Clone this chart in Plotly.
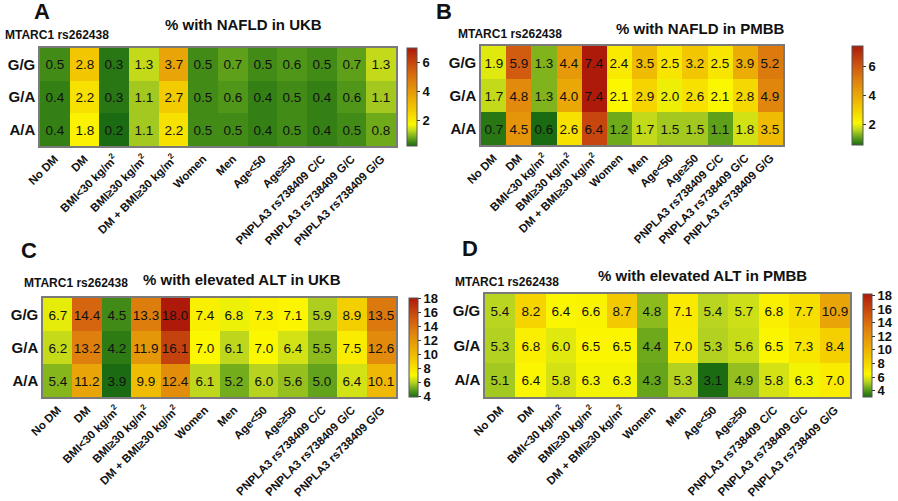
import plotly.graph_objects as go

categories = ["No DM", "DM", "BMI<30 kg/m<sup>2</sup>", "BMI≥30 kg/m<sup>2</sup>",
              "DM + BMI≥30 kg/m<sup>2</sup>", "Women", "Men", "Age<50", "Age≥50",
              "PNPLA3 rs738409 C/C", "PNPLA3 rs738409 G/C", "PNPLA3 rs738409 G/G"]
genotypes = ["G/G", "G/A", "A/A"]

nafld_ukb = [
    [0.5, 2.8, 0.3, 1.3, 3.7, 0.5, 0.7, 0.5, 0.6, 0.5, 0.7, 1.3],
    [0.4, 2.2, 0.3, 1.1, 2.7, 0.5, 0.6, 0.4, 0.5, 0.4, 0.6, 1.1],
    [0.4, 1.8, 0.2, 1.1, 2.2, 0.5, 0.5, 0.4, 0.5, 0.4, 0.5, 0.8],
]
nafld_pmbb = [
    [1.9, 5.9, 1.3, 4.4, 7.4, 2.4, 3.5, 2.5, 3.2, 2.5, 3.9, 5.2],
    [1.7, 4.8, 1.3, 4.0, 7.4, 2.1, 2.9, 2.0, 2.6, 2.1, 2.8, 4.9],
    [0.7, 4.5, 0.6, 2.6, 6.4, 1.2, 1.7, 1.5, 1.5, 1.1, 1.8, 3.5],
]
alt_ukb = [
    [6.7, 14.4, 4.5, 13.3, 18.0, 7.4, 6.8, 7.3, 7.1, 5.9, 8.9, 13.5],
    [6.2, 13.2, 4.2, 11.9, 16.1, 7.0, 6.1, 7.0, 6.4, 5.5, 7.5, 12.6],
    [5.4, 11.2, 3.9, 9.9, 12.4, 6.1, 5.2, 6.0, 5.6, 5.0, 6.4, 10.1],
]
alt_pmbb = [
    [5.4, 8.2, 6.4, 6.6, 8.7, 4.8, 7.1, 5.4, 5.7, 6.8, 7.7, 10.9],
    [5.3, 6.8, 6.0, 6.5, 6.5, 4.4, 7.0, 5.3, 5.6, 6.5, 7.3, 8.4],
    [5.1, 6.4, 5.8, 6.3, 6.3, 4.3, 5.3, 3.1, 4.9, 5.8, 6.3, 7.0],
]

titles = ["% with NAFLD in UKB", "% with NAFLD in PMBB",
          "% with elevated ALT in UKB", "% with elevated ALT in PMBB"]
letters = ["A", "B", "C", "D"]
snp_label = "MTARC1 rs262438"
cbar_ticks_nafld = [2, 4, 6]
cbar_ticks_alt = [4, 6, 8, 10, 12, 14, 16, 18]

W, H = 898, 501
FONT = "Liberation Sans, Arial, sans-serif"

colorscale = [
    [0.0, "#1b6b12"],
    [0.07, "#5a9e1a"],
    [0.15, "#b8d420"],
    [0.22, "#fbf700"],
    [0.35, "#f4d000"],
    [0.5, "#eaa806"],
    [0.65, "#df820e"],
    [0.8, "#cf5610"],
    [1.0, "#ad1a0a"],
]

def px_x(a, b):
    return [a / W, b / W]

def px_y(top, bottom):
    return [1 - bottom / H, 1 - top / H]

panels = [
    dict(z=nafld_ukb, xd=px_x(40, 396), yd=px_y(48, 146), zmin=0.2, zmax=7.0,
         ticks=cbar_ticks_nafld, cb=(407, 10, 48, 146)),
    dict(z=nafld_pmbb, xd=px_x(481, 783), yd=px_y(46, 145), zmin=0.6, zmax=7.4,
         ticks=cbar_ticks_nafld, cb=(852, 11, 46, 145)),
    dict(z=alt_ukb, xd=px_x(43, 396), yd=px_y(298, 397), zmin=3.9, zmax=18.0,
         ticks=cbar_ticks_alt, cb=(409, 9, 298, 397)),
    dict(z=alt_pmbb, xd=px_x(485, 850), yd=px_y(294, 397), zmin=3.1, zmax=18.2,
         ticks=cbar_ticks_alt, cb=(863, 9, 294, 397)),
]

fig = go.Figure()
layout = {}
for i, p in enumerate(panels):
    n = "" if i == 0 else str(i + 1)
    cx, th, ct, cbt = p["cb"]
    text = [[f"{v:.1f}" for v in row] for row in p["z"]]
    fig.add_trace(go.Heatmap(
        z=p["z"], x=categories, y=genotypes, text=text, texttemplate="%{text}",
        textfont=dict(family=FONT, size=13.5, color="#111111"),
        colorscale=colorscale, zmin=p["zmin"], zmax=p["zmax"],
        xaxis="x" + n, yaxis="y" + n, hoverinfo="skip",
        colorbar=dict(
            x=cx / W, xanchor="left", xpad=0, ypad=0, thickness=th,
            y=1 - (ct + cbt) / 2 / H, yanchor="middle", len=(cbt - ct) / H,
            lenmode="fraction", outlinewidth=1, outlinecolor="#555555",
            tickvals=p["ticks"], ticktext=[f"<b>{t}</b>" for t in p["ticks"]],
            ticks="outside", ticklen=3, tickcolor="#333333",
            tickfont=dict(family=FONT, size=13, color="#111111"),
        ),
    ))
    layout["xaxis" + n] = dict(
        domain=p["xd"], anchor="y" + n, tickangle=-45, automargin=False,
        tickfont=dict(family=FONT, size=11.5, color="#111111"),
        ticktext=[f"<b>{c}</b>" for c in categories], tickvals=categories,
        showline=True, mirror=True, linecolor="#7a7a7a", linewidth=1.5,
        ticks="", showgrid=False, zeroline=False, fixedrange=True,
    )
    layout["yaxis" + n] = dict(
        domain=p["yd"], anchor="x" + n, autorange="reversed", automargin=False,
        tickfont=dict(family=FONT, size=15, color="#111111"),
        ticktext=[f"<b>{g}</b>" for g in genotypes], tickvals=genotypes,
        showline=True, mirror=True, linecolor="#7a7a7a", linewidth=1.5,
        ticks="", showgrid=False, zeroline=False, fixedrange=True,
    )

annotations = []
title_pos = [(243, 25), (700, 28), (242, 279), (702, 275)]
snp_pos = [(3, 35), (456, 34), (22, 283), (453, 282)]
letter_pos = [(42, 12), (444, 12), (29, 250), (470, 248)]
for i in range(4):
    tx, ty = title_pos[i]
    annotations.append(dict(text=f"<b>{titles[i]}</b>", x=tx / W, y=1 - ty / H,
                            xref="paper", yref="paper", xanchor="center", yanchor="middle",
                            showarrow=False, font=dict(family=FONT, size=15, color="#111111")))
    sx, sy = snp_pos[i]
    annotations.append(dict(text=f"<b>{snp_label}</b>", x=sx / W, y=1 - sy / H,
                            xref="paper", yref="paper", xanchor="left", yanchor="middle",
                            showarrow=False, font=dict(family=FONT, size=12, color="#111111")))
    lx, ly = letter_pos[i]
    annotations.append(dict(text=f"<b>{letters[i]}</b>", x=lx / W, y=1 - ly / H,
                            xref="paper", yref="paper", xanchor="center", yanchor="middle",
                            showarrow=False, font=dict(family=FONT, size=22, color="#111111")))

fig.update_layout(
    width=W, height=H, margin=dict(l=0, r=0, t=0, b=0, autoexpand=False),
    paper_bgcolor="white", plot_bgcolor="white",
    annotations=annotations, showlegend=False, **layout,
)
fig.write_html("out.html", config={"displayModeBar": False},
               post_script="document.body.style.margin='0';document.body.style.overflow='hidden';")
